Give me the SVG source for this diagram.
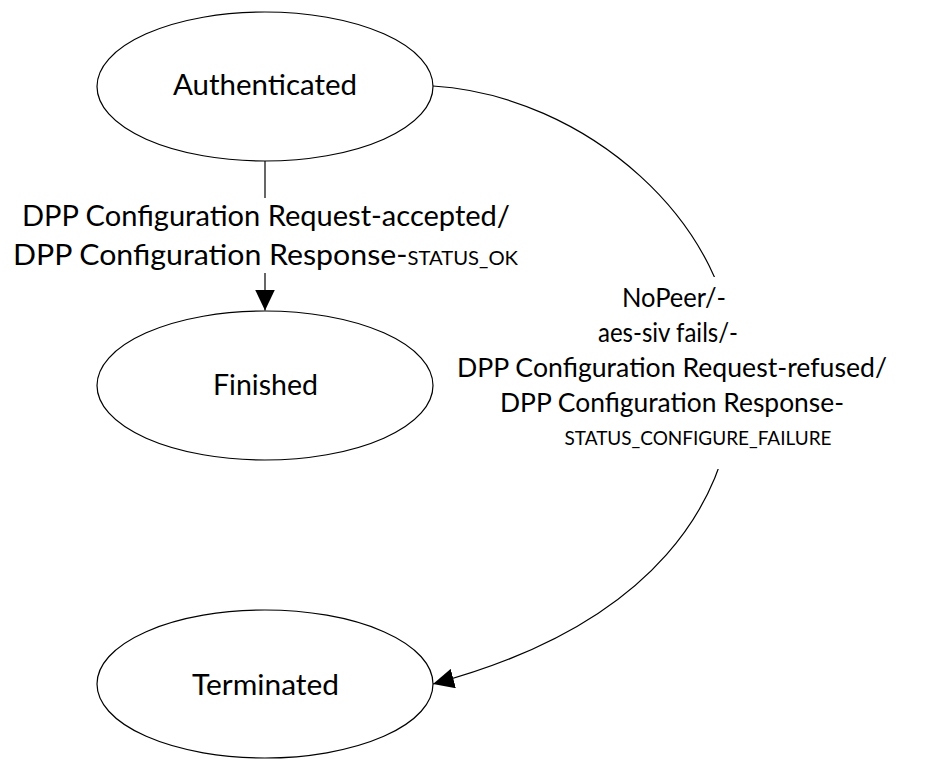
<svg xmlns="http://www.w3.org/2000/svg" width="935" height="759" viewBox="0 0 935 759">
<defs>
<marker id="arrow" markerUnits="userSpaceOnUse" markerWidth="21" markerHeight="20" viewBox="0 0 21 20" refX="21" refY="10" orient="auto"><path d="M0,0 L21,10 L0,20 Z" fill="#000"/></marker>
</defs>
<style>
.node ellipse{fill:#fff;stroke:#000;stroke-width:1.2}
text{font-family:Lato,"Open Sans",sans-serif;fill:#000}
.big{font-size:29px}
.lbl{font-size:26.7px}
.sm{font-size:19.4px}
.edge{fill:none;stroke:#000;stroke-width:1.2}
.bg{fill:#fff}
</style>
<rect width="935" height="759" fill="#fff"/>
<g id="connectors">
<path id="e1" class="edge" d="M265,161 L265,310.5" marker-end="url(#arrow)"/>
<path id="e2" class="edge" d="M433,86 C583,95 735,222 735,372 C735,502 653,625 433,684" marker-end="url(#arrow)"/>
</g>
<g id="label-e1">
<rect class="bg" x="8" y="198" width="516" height="75"/>
<text class="big" x="266" y="226" text-anchor="middle" textLength="488" lengthAdjust="spacingAndGlyphs">DPP Configuration Request-accepted/</text>
<text class="big" x="265.5" y="265" text-anchor="middle" textLength="505" lengthAdjust="spacingAndGlyphs">DPP Configuration Response-<tspan class="sm">STATUS_OK</tspan></text>
</g>
<g id="label-e2">
<rect class="bg" x="450" y="277" width="480" height="192"/>
<text class="lbl" x="674" y="307" text-anchor="middle" textLength="104" lengthAdjust="spacingAndGlyphs">NoPeer/-</text>
<text class="lbl" x="668" y="342" text-anchor="middle" textLength="140" lengthAdjust="spacingAndGlyphs">aes-siv fails/-</text>
<text class="lbl" x="672" y="377" text-anchor="middle" textLength="430" lengthAdjust="spacingAndGlyphs">DPP Configuration Request-refused/</text>
<text class="lbl" x="672" y="412" text-anchor="middle" textLength="344" lengthAdjust="spacingAndGlyphs">DPP Configuration Response-</text>
<text class="sm" x="698" y="445" text-anchor="middle" textLength="267" lengthAdjust="spacingAndGlyphs">STATUS_CONFIGURE_FAILURE</text>
</g>
<g id="authenticated" class="node">
<ellipse cx="265" cy="86.5" rx="168" ry="74.5"/>
<text class="big" x="265" y="95" text-anchor="middle" textLength="184" lengthAdjust="spacingAndGlyphs">Authenticated</text>
</g>
<g id="finished" class="node">
<ellipse cx="265" cy="385.5" rx="168" ry="74.5"/>
<text class="big" x="265.5" y="395" text-anchor="middle" textLength="105" lengthAdjust="spacingAndGlyphs">Finished</text>
</g>
<g id="terminated" class="node">
<ellipse cx="265" cy="684" rx="168" ry="74"/>
<text class="big" x="265.5" y="695" text-anchor="middle" textLength="147" lengthAdjust="spacingAndGlyphs">Terminated</text>
</g>
</svg>
